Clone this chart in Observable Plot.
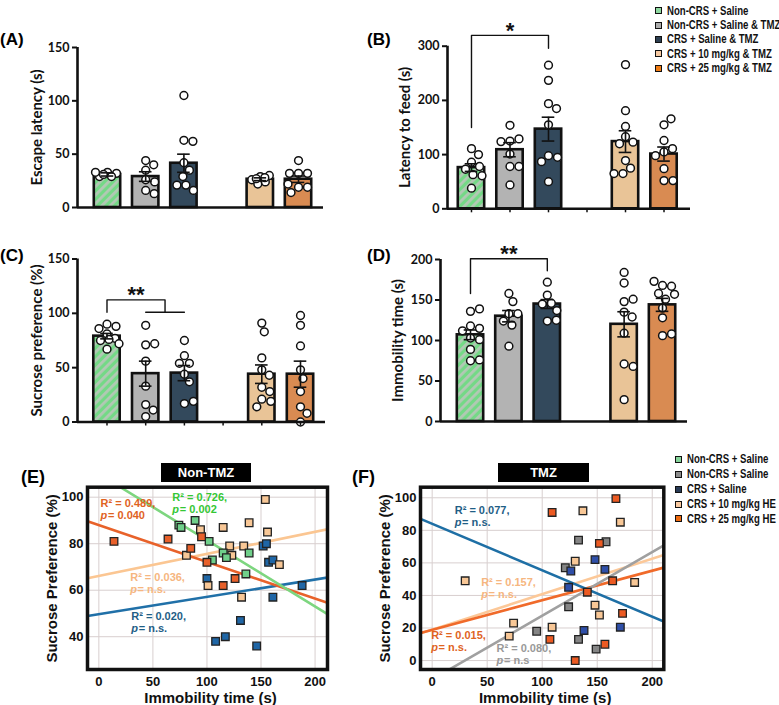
<!DOCTYPE html>
<html><head><meta charset="utf-8">
<script src="https://cdn.jsdelivr.net/npm/d3@7"></script>
<script src="https://cdn.jsdelivr.net/npm/@observablehq/plot@0.6"></script>
<style>
html,body{margin:0;padding:0;background:#fff;}
#fig{position:relative;width:779px;height:705px;overflow:hidden;background:#fff;}
.pn{position:absolute;}
.pn svg{background:transparent !important;}
.letter{position:absolute;font-family:"Liberation Sans",Arial,sans-serif;font-weight:bold;font-size:17px;color:#000;line-height:1;}
.letter2{position:absolute;font-family:"Liberation Sans",Arial,sans-serif;font-weight:bold;font-size:18px;color:#000;line-height:1;}
.title{position:absolute;background:#000;color:#fff;font-family:"Liberation Sans",Arial,sans-serif;font-weight:bold;font-size:13px;text-align:center;height:19px;line-height:19px;}
.legend{position:absolute;font-family:"Liberation Sans",Arial,sans-serif;font-weight:bold;font-size:12px;color:#111;white-space:nowrap;}
.legend .row{display:flex;align-items:center;}
.legend .sw{width:5px;height:5px;border:1.5px solid #111;margin-right:5px;flex:none;}
.legend .tx{display:inline-block;transform:scaleX(0.8);transform-origin:0 50%;}
</style></head>
<body><div id="fig"></div>
<script>
// ---------- categories ----------
const categories = ["Non-CRS + Saline", "Non-CRS + Saline & TMZ", "CRS + Saline & TMZ", "", "CRS + 10 mg/kg & TMZ", "CRS + 25 mg/kg & TMZ"];
const groups = categories.filter(c => c !== "");
const barColors = ["hatch", "#b3b3b3", "#33495c", "#e9c497", "#d98b52"];
const legendTopColors = ["#8ed9a0", "#acacac", "#2c3e50", "#f6c9a2", "#f07c14"];

// ---------- (A) Escape latency ----------
const escapeMean = [31, 29, 41.5, 26.5, 26.5];
const escapeSem = [1.5, 4.5, 8.5, 1.3, 3];
const escapePoints = [[33, 32, 29, 33, 29, 31], [44, 40, 35, 26, 24, 16, 13], [105, 63, 62, 42, 35, 29, 21, 21, 16], [29, 30, 26, 24, 22, 27, 28], [44, 32, 32, 32, 19, 19, 14, 22]];
const escapeTicks = [0, 50, 100, 150];

// ---------- (B) Latency to feed ----------
const feedMean = [76, 109, 147, 124, 101];
const feedSem = [7, 13, 22, 20, 13];
const feedPoints = [[111, 100, 86, 78, 73, 63, 61, 38], [154, 125, 129, 124, 101, 78, 78, 44], [265, 237, 194, 185, 155, 98, 95, 87, 50], [266, 181, 152, 133, 123, 120, 89, 75, 65, 65], [155, 166, 126, 105, 111, 98, 52, 52, 74]];
const feedTicks = [0, 100, 200, 300];
const feedSigX = [[1, 1, 3, 3]], feedSigY = [[150, 320, 320, 296]];
const feedStar = ["*"], feedStarX = [2], feedStarY = [338];

// ---------- (C) Sucrose preference ----------
const sucroseMean = [79, 44.5, 45, 44, 44];
const sucroseSem = [2.5, 11.5, 7, 8.5, 12];
const sucrosePoints = [[90, 88, 86, 81, 77, 75, 76, 67, 72], [89, 71, 72, 56, 33, 16, 11, 5], [75, 61, 54, 54, 44, 37, 17, 19], [91, 83, 59, 48, 43, 32, 28, 21, 19, 14], [98, 89, 70, 48, 40, 28, 14, 8, 0]];
const sucroseTicks = [0, 50, 100, 150];
const sucroseSigX = [[1, 1, 2.5, 2.5], [2, 3]], sucroseSigY = [[101, 112.4, 112.4, 101], [101, 101]];
const sucroseStar = ["**"], sucroseStarX = [1.75], sucroseStarY = [121.6];

// ---------- (D) Immobility time ----------
const immobMean = [107, 130, 145, 120, 144];
const immobSem = [6, 7, 5.5, 15.5, 8];
const immobPoints = [[136, 139, 118, 115, 112, 103, 101, 89, 75, 76], [158, 148, 133, 133, 124, 119, 93], [172, 156, 146, 145, 137, 124, 125], [184, 171, 148, 151, 135, 129, 109, 71, 68, 27], [168, 167, 173, 158, 151, 157, 140, 128, 106, 108]];
const immobTicks = [0, 50, 100, 150, 200];
const immobSigX = [[1, 1, 3, 3]], immobSigY = [[158, 201, 201, 186]];
const immobStar = ["**"], immobStarX = [2], immobStarY = [213];

// ---------- (E) Non-TMZ correlation ----------
const eSalineX = [74, 76, 89, 102, 105, 115, 118, 136, 139], eSalineY = [88, 87, 90, 81, 73, 76, 74, 67, 76];
const eCrsX = [152, 155, 157, 161, 188, 161, 100, 131, 108, 117, 146], eCrsY = [79, 80, 72, 73, 62, 57, 65, 47, 38, 40, 36];
const eLowX = [154, 115, 139, 156, 94, 121, 134, 123, 81, 167, 101, 132], eLowY = [99, 87, 89, 85, 86, 79, 79, 75, 75, 71, 62, 57];
const eHighX = [14, 64, 85, 95, 100, 115, 126], eHighY = [81, 82, 78, 83, 72, 62, 65];
const eFitIntercept = [66.1, 49.7, 88, 110];
const eFitSlope = [0.095, 0.0744, -0.158, -0.285];
const eFitColors = ["#fbc692", "#2070a8", "#e8622a", "#7dd67f"];
const eStatR = ["R² = 0.489,", "R² = 0.726,", "R² = 0.036,", "R² = 0.020,"];
const eStatP = ["= 0.040", "= 0.002", "= n.s.", "= n.s."];
const eStatX = [1.6, 68, 29, 30];
const eStatY = [97.3, 99.9, 65.5, 48.7];
const eStatColors = ["#df631f", "#35c735", "#f6b680", "#1f5e86"];

// ---------- (F) TMZ correlation ----------
const fSalineX = [133, 158, 121, 124, 95, 133, 149], fSalineY = [74, 73, 57, 33, 18, 13, 7];
const fCrsX = [148, 157, 126, 124, 138, 171], fCrsY = [62, 56, 55, 45, 18.5, 20.5];
const fLowX = [137, 171, 130, 30, 184, 148, 152, 74, 109, 70], fLowY = [92, 85, 61, 49, 48, 34, 28, 23, 20.5, 15];
const fHighX = [167, 109, 152, 164, 141, 173, 107, 157, 130], fHighY = [99.5, 91, 72, 49, 42, 29, 13, 10, 0];
const fFitIntercept = [19, 18.9, -11.6, 84];
const fFitSlope = [0.218, 0.1815, 0.391, -0.285];
const fFitColors = ["#fcc898", "#f06a2a", "#a0a0a0", "#1e6fa5"];
const fStatR = ["R² = 0.077,", "R² = 0.157,", "R² = 0.015,", "R² = 0.080,"];
const fStatP = ["= n.s.", "= n.s.", "= n.s.", "= n.s"];
const fStatX = [20.5, 44.5, -0.9, 58.5];
const fStatY = [92.2, 48.1, 15.4, 7.4];
const fStatColors = ["#1f5e86", "#f6b680", "#e0641f", "#999999"];

const corrLegend = ["Non-CRS + Saline", "Non-CRS + Saline", "CRS + Saline", "CRS + 10 mg/kg HE", "CRS + 25 mg/kg HE"];
const corrLegendColors = ["#85d49a", "#8c8c8c", "#283a55", "#f9c9a0", "#ee6a10"];

// ---------- helpers ----------
function swarm(vals, pxY, r, maxOff) {
  const placed = [], offs = [];
  for (const v of vals) {
    const y = v * pxY;
    let chosen = null;
    for (let k = 0; k <= 400; k++) {
      const o = (k % 2 ? 1 : -1) * Math.ceil(k / 2) * 0.5;
      if (Math.abs(o) > maxOff) break;
      if (placed.every(p => Math.hypot(p.x - o, p.y - y) >= 2 * r)) { chosen = o; break; }
    }
    if (chosen === null) {
      let best = 0, bestD = -1;
      for (let o = -maxOff; o <= maxOff; o += 0.5) {
        const d = Math.min(...placed.map(p => Math.hypot(p.x - o, p.y - y)));
        if (d > bestD) { bestD = d; best = o; }
      }
      chosen = best;
    }
    placed.push({x: chosen, y}); offs.push(chosen);
  }
  return offs;
}

const fig = document.getElementById("fig");
function place(node, left, top) {
  const d = document.createElement("div");
  d.className = "pn"; d.style.left = left + "px"; d.style.top = top + "px";
  d.appendChild(node); fig.appendChild(d);
}

function barPanel(c) {
  const pw = c.width - c.ml - c.mr, ph = c.height - c.mt - c.mb;
  const pxX = pw / (c.xDomain[1] - c.xDomain[0]);
  const pxY = ph / (c.yDomain[1] - c.yDomain[0]);
  const hw = 13.2 / pxX, cap = 6.3 / pxX;
  const hatchId = "hatch-" + c.id;
  const bars = groups.map((g, i) => ({group: g, pos: categories.indexOf(g) + 1, mean: c.mean[i], sem: c.sem[i],
    fill: barColors[i] === "hatch" ? `url(#${hatchId})` : barColors[i]}));
  const dots = [];
  bars.forEach((b, i) => {
    const offs = swarm(c.points[i], pxY, 4.5, 12);
    c.points[i].forEach((v, j) => dots.push({x: b.pos + offs[j] / pxX, y: v}));
  });
  const sig = c.sigX.flatMap((xs, k) => xs.map((x, j) => ({x, y: c.sigY[k][j], k})));
  const stars = c.star.map((s, i) => ({s, x: c.starX[i], y: c.starY[i]}));
  const yTop = c.yTicks[c.yTicks.length - 1];
  const marks = [
    Plot.rect(bars, {x1: d => d.pos - hw, x2: d => d.pos + hw, y1: 0, y2: "mean", fill: "fill", stroke: "#111", strokeWidth: 2.6}),
    Plot.dot(dots, {x: "x", y: "y", r: 3.9, fill: "white", stroke: "#111", strokeWidth: 1.5}),
    Plot.ruleX(bars, {x: "pos", y1: d => d.mean - d.sem, y2: d => d.mean + d.sem, stroke: "#111", strokeWidth: 1.6}),
    Plot.ruleY(bars, {y: d => d.mean + d.sem, x1: d => d.pos - cap, x2: d => d.pos + cap, stroke: "#111", strokeWidth: 1.6}),
    Plot.ruleY(bars, {y: d => d.mean - d.sem, x1: d => d.pos - cap, x2: d => d.pos + cap, stroke: "#111", strokeWidth: 1.6}),
    Plot.ruleY([0], {stroke: "#111", strokeWidth: 2.6}),
    Plot.ruleX([c.xDomain[0]], {y1: 0, y2: yTop, stroke: "#111", strokeWidth: 2.6}),
    Plot.axisY({ticks: c.yTicks, tickSize: 5, tickPadding: 3, fontSize: 12.5, fontWeight: "bold", strokeWidth: 2, label: null}),
    Plot.line(sig, {x: "x", y: "y", z: "k", stroke: "#111", strokeWidth: 1.4}),
    Plot.text(stars, {x: "x", y: "y", text: "s", fontSize: 22, fontFamily: "Liberation Sans, Arial, sans-serif", fontWeight: "bold", lineAnchor: "middle", dy: 5}),
    Plot.text([c.ylabel], {text: d => d, frameAnchor: "left", textAnchor: "middle", dx: c.labelDx, rotate: -90, fontSize: 15, fontWeight: "bold"})
  ];
  if (c.catTicks) marks.push(Plot.axisX({ticks: d3.range(1, categories.length + 1), tickSize: 4, tickFormat: () => "", strokeWidth: 1.5, label: null}));
  const svg = Plot.plot({
    width: c.width, height: c.height, marginLeft: c.ml, marginRight: c.mr, marginTop: c.mt, marginBottom: c.mb,
    x: {domain: c.xDomain, axis: null}, y: {domain: c.yDomain, axis: null},
    color: {type: "identity"},
    style: {fontFamily: "Lato, 'Open Sans', sans-serif", fontWeight: "bold", color: "#111", background: "transparent", overflow: "visible"},
    marks
  });
  svg.insertAdjacentHTML("afterbegin", `<defs><pattern id="${hatchId}" patternUnits="userSpaceOnUse" width="6" height="6" patternTransform="rotate(45)"><rect width="6" height="6" fill="#74d986"/><rect width="2.8" height="6" fill="#b3c8b5"/></pattern></defs>`);
  return svg;
}

function scatterPanel(c) {
  const fit = c.fitIntercept.flatMap((b, i) => c.xDomain.map(x => ({i, x, y: b + c.fitSlope[i] * x, stroke: c.fitColors[i]})));
  const pts = c.series.flatMap(s => s.x.map((x, j) => ({x, y: s.y[j], fill: s.fill})));
  const stats = c.statR.map((t, i) => ({r: t, p: c.statP[i], x: c.statX[i], y: c.statY[i], color: c.statColors[i]}));
  const fs = 11;
  return Plot.plot({
    width: c.width, height: c.height, marginLeft: c.ml, marginRight: c.mr, marginTop: c.mt, marginBottom: c.mb,
    x: {domain: c.xDomain, axis: null}, y: {domain: c.yDomain, axis: null},
    color: {type: "identity"},
    style: {fontFamily: "'Liberation Sans', Arial, sans-serif", fontWeight: "bold", color: "#111", background: "transparent", overflow: "visible"},
    marks: [
      Plot.gridX({ticks: c.xTicks, stroke: "#d8cfcf", strokeOpacity: 1, strokeWidth: 1}),
      Plot.gridY({ticks: c.yTicks, stroke: "#d8cfcf", strokeOpacity: 1, strokeWidth: 1}),
      Plot.line(fit, {x: "x", y: "y", z: "i", stroke: "stroke", strokeWidth: 2.6, clip: true}),
      Plot.dot(pts, {x: "x", y: "y", symbol: "square", r: 4.3, fill: "fill", stroke: "#222", strokeWidth: 1.3}),
      Plot.frame({stroke: "#111", strokeWidth: 3.5}),
      Plot.axisX({ticks: c.xTicks, tickSize: 0, tickPadding: 7, fontSize: 13, fontWeight: "bold", label: null}),
      Plot.axisY({ticks: c.yTicks, tickSize: 0, tickPadding: 4, fontSize: 13, fontWeight: "bold", label: null}),
      Plot.text(stats, {x: "x", y: "y", text: "r", fill: "color", textAnchor: "start", lineAnchor: "middle", fontSize: fs, fontWeight: "bold"}),
      Plot.text(stats, {x: "x", y: "y", text: () => "p", fill: "color", textAnchor: "start", lineAnchor: "middle", dy: 12, fontSize: fs, fontWeight: "bold", fontStyle: "italic"}),
      Plot.text(stats, {x: "x", y: "y", text: "p", fill: "color", textAnchor: "start", lineAnchor: "middle", dx: 7.4, dy: 12, fontSize: fs, fontWeight: "bold"}),
      Plot.text(["Sucrose Preference (%)"], {text: d => d, frameAnchor: "left", textAnchor: "middle", dx: -35, rotate: -90, fontSize: 15, fontWeight: "bold"}),
      Plot.text(["Immobility time (s)"], {text: d => d, frameAnchor: "bottom", textAnchor: "middle", dy: 29, dx: 3, lineAnchor: "middle", fontSize: 15, fontWeight: "bold"})
    ]
  });
}

// ---------- build panels ----------
place(barPanel({id: "A", width: 380, height: 225, ml: 77, mr: 57, mt: 47, mb: 18, xDomain: [0.215, 6.654], yDomain: [0, 150],
  yTicks: escapeTicks, mean: escapeMean, sem: escapeSem, points: escapePoints, ylabel: "Escape latency (s)", labelDx: -40,
  sigX: [], sigY: [], star: [], starX: [], starY: [], catTicks: false}), 0, 0);

place(barPanel({id: "B", width: 399, height: 225, ml: 67, mr: 89, mt: 45.7, mb: 16.7, xDomain: [0.377, 6.688], yDomain: [0, 300],
  yTicks: feedTicks, mean: feedMean, sem: feedSem, points: feedPoints, ylabel: "Latency to feed (s)", labelDx: -42,
  sigX: feedSigX, sigY: feedSigY, star: feedStar, starX: feedStarX, starY: feedStarY, catTicks: true}), 380, 0);

place(barPanel({id: "C", width: 380, height: 215, ml: 77, mr: 55, mt: 33.5, mb: 18.5, xDomain: [0.238, 6.646], yDomain: [0, 150],
  yTicks: sucroseTicks, mean: sucroseMean, sem: sucroseSem, points: sucrosePoints, ylabel: "Sucrose preference (%)", labelDx: -40,
  sigX: sucroseSigX, sigY: sucroseSigY, star: sucroseStar, starX: sucroseStarX, starY: sucroseStarY, catTicks: true}), 0, 225);

place(barPanel({id: "D", width: 399, height: 215, ml: 60, mr: 92, mt: 34, mb: 19, xDomain: [0.219, 6.65], yDomain: [0, 200],
  yTicks: immobTicks, mean: immobMean, sem: immobSem, points: immobPoints, ylabel: "Immobility time (s)", labelDx: -42,
  sigX: immobSigX, sigY: immobSigY, star: immobStar, starX: immobStarX, starY: immobStarY, catTicks: false}), 380, 225);

place(scatterPanel({width: 360, height: 265, ml: 87, mr: 33, mt: 46.7, mb: 36, xDomain: [-10.5, 211.5], yDomain: [25.9, 104.3],
  xTicks: [0, 50, 100, 150, 200], yTicks: [40, 60, 80, 100],
  series: [{x: eCrsX, y: eCrsY, fill: "#1f66a6"}, {x: eLowX, y: eLowY, fill: "#f8c796"}, {x: eSalineX, y: eSalineY, fill: "#6fcf8a"}, {x: eHighX, y: eHighY, fill: "#e8602a"}],
  fitIntercept: eFitIntercept, fitSlope: eFitSlope, fitColors: eFitColors,
  statR: eStatR, statP: eStatP, statX: eStatX, statY: eStatY, statColors: eStatColors}), 0, 440);

place(scatterPanel({width: 419, height: 265, ml: 60, mr: 115.7, mt: 46.7, mb: 36, xDomain: [-10.6, 210.5], yDomain: [-5.5, 106.5],
  xTicks: [0, 50, 100, 150, 200], yTicks: [0, 20, 40, 60, 80, 100],
  series: [{x: fSalineX, y: fSalineY, fill: "#858585"}, {x: fCrsX, y: fCrsY, fill: "#2f4fa8"}, {x: fLowX, y: fLowY, fill: "#f8c796"}, {x: fHighX, y: fHighY, fill: "#ec5a22"}],
  fitIntercept: fFitIntercept, fitSlope: fFitSlope, fitColors: fFitColors,
  statR: fStatR, statP: fStatP, statX: fStatX, statY: fStatY, statColors: fStatColors}), 360, 440);

// ---------- HTML labels and legends ----------
function addDiv(cls, left, top, html, extra) {
  const d = document.createElement("div"); d.className = cls;
  d.style.left = left + "px"; d.style.top = top + "px"; d.innerHTML = html;
  if (extra) Object.assign(d.style, extra);
  fig.appendChild(d); return d;
}
addDiv("letter", 0, 31, "(A)");
addDiv("letter", 367, 31, "(B)");
addDiv("letter", 0, 247, "(C)");
addDiv("letter", 367, 247, "(D)");
addDiv("letter2", 21, 468, "(E)");
addDiv("letter2", 352, 468, "(F)");
addDiv("title", 161, 463, "Non-TMZ", {width: "90px"});
addDiv("title", 498, 463, "TMZ", {width: "91px"});

function legend(left, top, rowH, labels, colors) {
  const html = labels.map((l, i) => `<div class="row" style="height:${rowH}px"><span class="sw" style="background:${colors[i]}"></span><span class="tx">${l}</span></div>`).join("");
  addDiv("legend", left, top, html);
}
legend(655, 3.5, 14.4, groups, legendTopColors);
legend(675, 451.9, 14.9, corrLegend, corrLegendColors);
</script>
</body></html>
